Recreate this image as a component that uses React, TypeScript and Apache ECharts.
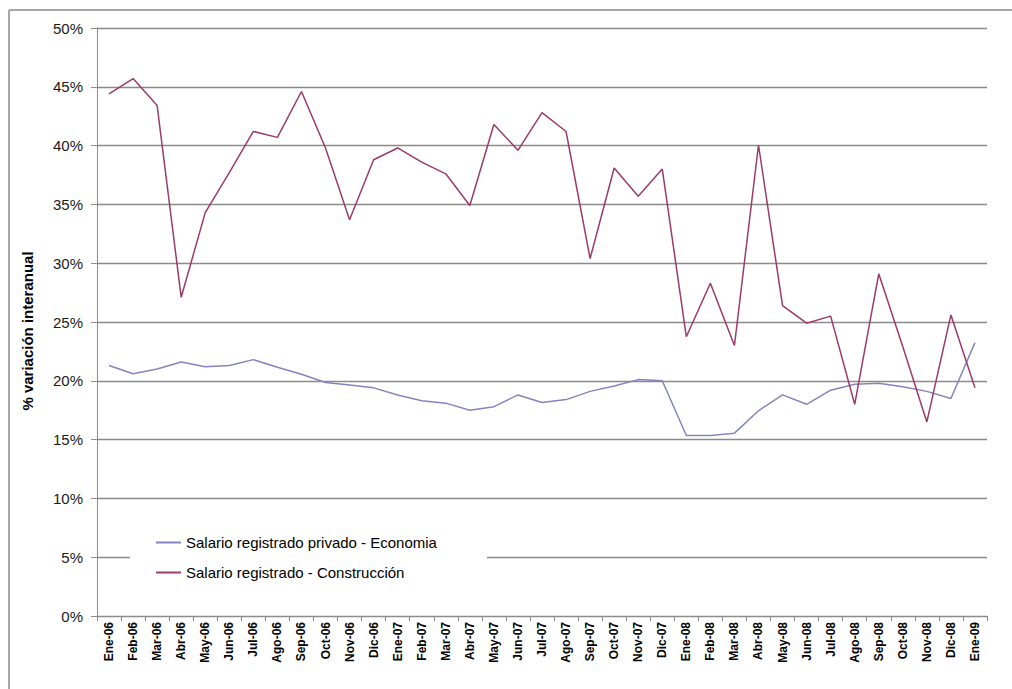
import React, { useEffect, useRef } from "react";
import * as echarts from "echarts";

const months = [
  "Ene-06", "Feb-06", "Mar-06", "Abr-06", "May-06", "Jun-06", "Jul-06", "Ago-06", "Sep-06", "Oct-06", "Nov-06", "Dic-06",
  "Ene-07", "Feb-07", "Mar-07", "Abr-07", "May-07", "Jun-07", "Jul-07", "Ago-07", "Sep-07", "Oct-07", "Nov-07", "Dic-07",
  "Ene-08", "Feb-08", "Mar-08", "Abr-08", "May-08", "Jun-08", "Jul-08", "Ago-08", "Sep-08", "Oct-08", "Nov-08", "Dic-08",
  "Ene-09",
];

const economia = [
  21.3, 20.6, 21.0, 21.6, 21.2, 21.3, 21.8, 21.15, 20.55, 19.85, 19.65, 19.4,
  18.8, 18.3, 18.1, 17.5, 17.8, 18.8, 18.15, 18.4, 19.1, 19.55, 20.1, 20.0,
  15.35, 15.35, 15.55, 17.45, 18.8, 18.0, 19.2, 19.7, 19.8, 19.5, 19.1, 18.5,
  23.25,
];

const construccion = [
  44.4, 45.7, 43.4, 27.1, 34.3, 37.7, 41.2, 40.7, 44.6, 39.8, 33.7, 38.8,
  39.8, 38.6, 37.6, 34.9, 41.8, 39.6, 42.8, 41.2, 30.4, 38.1, 35.7, 38.0,
  23.75, 28.3, 23.0, 40.05, 26.4, 24.9, 25.5, 18.0, 29.1, 22.9, 16.5, 25.6,
  19.4,
];

const seriesNames = [
  "Salario registrado privado - Economia",
  "Salario registrado - Construcción",
];

const yAxisTitle = "% variación interanual";

const FONT = "'Liberation Sans', Arial, sans-serif";

export default function App() {
  const ref = useRef<HTMLDivElement>(null);

  useEffect(() => {
    if (!ref.current) return;
    const chart = echarts.init(ref.current, null, { renderer: "svg" });
    chart.setOption({
      animation: false,
      backgroundColor: "#ffffff",
      textStyle: { fontFamily: FONT },
      grid: { left: 97, right: 25, top: 28, bottom: 73, containLabel: false },
      graphic: [
        { type: "line", shape: { x1: 9, y1: 10, x2: 1012, y2: 10 }, style: { stroke: "#a6a6a6", lineWidth: 2 } },
        { type: "line", shape: { x1: 9, y1: 10, x2: 9, y2: 689 }, style: { stroke: "#a6a6a6", lineWidth: 2 } },
        {
          type: "text",
          x: 27,
          y: 331,
          rotation: Math.PI / 2,
          style: {
            text: yAxisTitle,
            fontFamily: FONT,
            fontWeight: "bold",
            fontSize: 15,
            fill: "#000",
            align: "center",
            verticalAlign: "middle",
          },
        },
      ],
      legend: {
        orient: "vertical",
        left: 130,
        top: 527,
        padding: [8, 50, 12, 26],
        backgroundColor: "#ffffff",
        itemWidth: 25,
        itemHeight: 2,
        itemGap: 15,
        icon: "rect",
        textStyle: { fontFamily: FONT, fontSize: 15, color: "#000" },
        data: seriesNames,
      },
      xAxis: {
        type: "category",
        data: months,
        boundaryGap: true,
        axisLine: { lineStyle: { color: "#8c8c8c", width: 1 } },
        axisTick: { show: true, interval: 0, length: 5, lineStyle: { color: "#8c8c8c" } },
        axisLabel: {
          interval: 0,
          rotate: 90,
          margin: 6,
          fontFamily: FONT,
          fontSize: 12,
          fontWeight: "bold",
          color: "#000",
        },
        splitLine: { show: false },
      },
      yAxis: {
        type: "value",
        min: 0,
        max: 50,
        interval: 5,
        axisLine: { show: true, lineStyle: { color: "#8c8c8c", width: 1 } },
        axisTick: { show: true, length: 6, lineStyle: { color: "#8c8c8c" } },
        axisLabel: {
          formatter: "{value}%",
          margin: 14,
          fontFamily: FONT,
          fontSize: 15,
          color: "#1a1a1a",
        },
        splitLine: { show: true, lineStyle: { color: "#8a8a8a", width: 1.3 } },
      },
      series: [
        {
          name: seriesNames[0],
          type: "line",
          data: economia,
          symbol: "none",
          lineStyle: { color: "#8484bf", width: 1.5 },
          itemStyle: { color: "#8484bf" },
        },
        {
          name: seriesNames[1],
          type: "line",
          data: construccion,
          symbol: "none",
          lineStyle: { color: "#9c3a6b", width: 1.5 },
          itemStyle: { color: "#9c3a6b" },
        },
      ],
    });
    return () => chart.dispose();
  }, []);

  return (
    <div
      ref={ref}
      style={{ position: "fixed", left: 0, top: 0, width: 1012, height: 689 }}
    />
  );
}
